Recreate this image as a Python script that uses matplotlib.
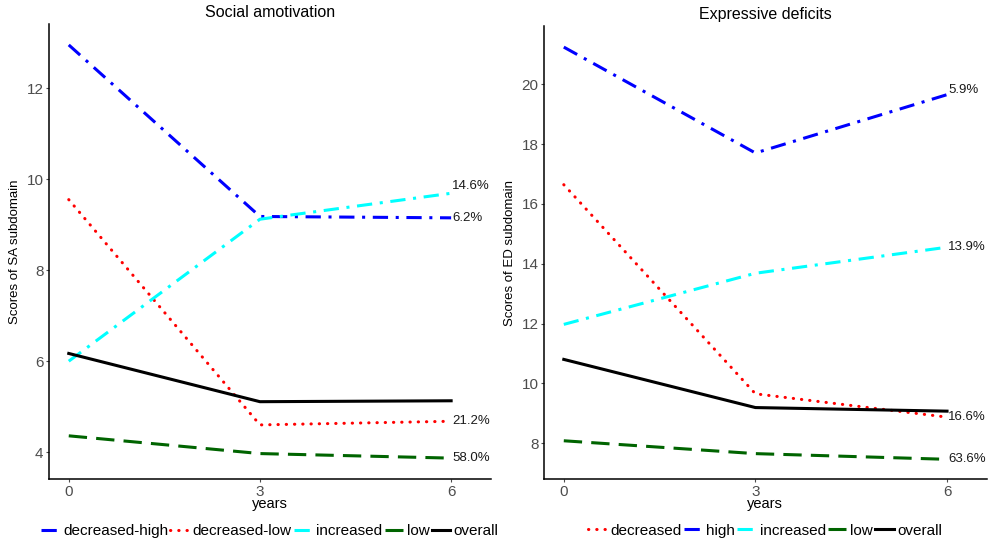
import matplotlib.pyplot as plt

plt.rcParams["font.family"] = ["Liberation Sans", "DejaVu Sans"]

years = [0, 3, 6]

# Social amotivation
sa_groups = ["decreased-high", "decreased-low", "increased", "low", "overall"]
sa_values = [
    [12.95, 9.18, 9.15],
    [9.55, 4.60, 4.68],
    [6.00, 9.12, 9.69],
    [4.36, 3.97, 3.87],
    [6.17, 5.11, 5.13],
]
sa_labels = ["6.2%", "21.2%", "14.6%", "58.0%", None]

# Expressive deficits
ed_groups = ["decreased", "high", "increased", "low", "overall"]
ed_values = [
    [16.64, 9.65, 8.87],
    [21.24, 17.70, 19.65],
    [11.97, 13.68, 14.55],
    [8.08, 7.65, 7.46],
    [10.80, 9.19, 9.07],
]
ed_labels = ["16.6%", "5.9%", "13.9%", "63.6%", None]

dotdash = (0, (5, 2.5, 1, 2.5))
dotted = (0, (0.1, 2.6))
longdash = (0, (6, 3))

sa_styles = [
    ("blue", dotdash),
    ("red", dotted),
    ("cyan", dotdash),
    ("darkgreen", longdash),
    ("black", "-"),
]
ed_styles = [
    ("red", dotted),
    ("blue", dotdash),
    ("cyan", dotdash),
    ("darkgreen", longdash),
    ("black", "-"),
]

fig = plt.figure(figsize=(9.88, 5.45), dpi=100)
ax1 = fig.add_axes([0.0496, 0.121, 0.447, 0.835])
ax2 = fig.add_axes([0.5506, 0.121, 0.448, 0.831])


def draw(ax, groups, values, labels, styles, title, ylabel, ylim, yticks, offsets):
    for g, v, lab, (c, ls), off in zip(groups, values, labels, styles, offsets):
        cap = "round" if ls == dotted else "butt"
        ax.plot(years, v, color=c, linestyle=ls, linewidth=2.2,
                dash_capstyle=cap, label=g)
        if lab:
            ax.text(6.02, v[-1] + off, lab, fontsize=9.5,
                    ha="left", va="center", color="#1a1a1a")
    ax.set_xlim(-0.31, 6.62)
    ax.set_ylim(*ylim)
    ax.set_xticks(years)
    ax.set_yticks(yticks)
    ax.set_title(title, fontsize=11.5, pad=5)
    ax.set_xlabel("years", fontsize=10.5, labelpad=-1)
    ax.set_ylabel(ylabel, fontsize=9.5, labelpad=4)
    for s in ["top", "right"]:
        ax.spines[s].set_visible(False)
    for s in ["left", "bottom"]:
        ax.spines[s].set_linewidth(1.1)
    ax.tick_params(colors="#4d4d4d", labelsize=11, length=2.5, width=0.8,
                   pad=1.5)
    ax.legend(loc="center", bbox_to_anchor=(0.5, -0.114), ncol=5,
              frameon=False, fontsize=11, handlelength=1.2,
              handletextpad=0.25, columnspacing=0.15)


draw(ax1, sa_groups, sa_values, sa_labels, sa_styles,
     "Social amotivation", "Scores of SA subdomain",
     (3.41, 13.41), [4, 6, 8, 10, 12], [0, 0, 0.15, 0, 0])
draw(ax2, ed_groups, ed_values, ed_labels, ed_styles,
     "Expressive deficits", "Scores of ED subdomain",
     (6.8, 21.94), [8, 10, 12, 14, 16, 18, 20], [0, 0.15, 0, 0, 0])

fig.savefig("out.png", dpi=100)
